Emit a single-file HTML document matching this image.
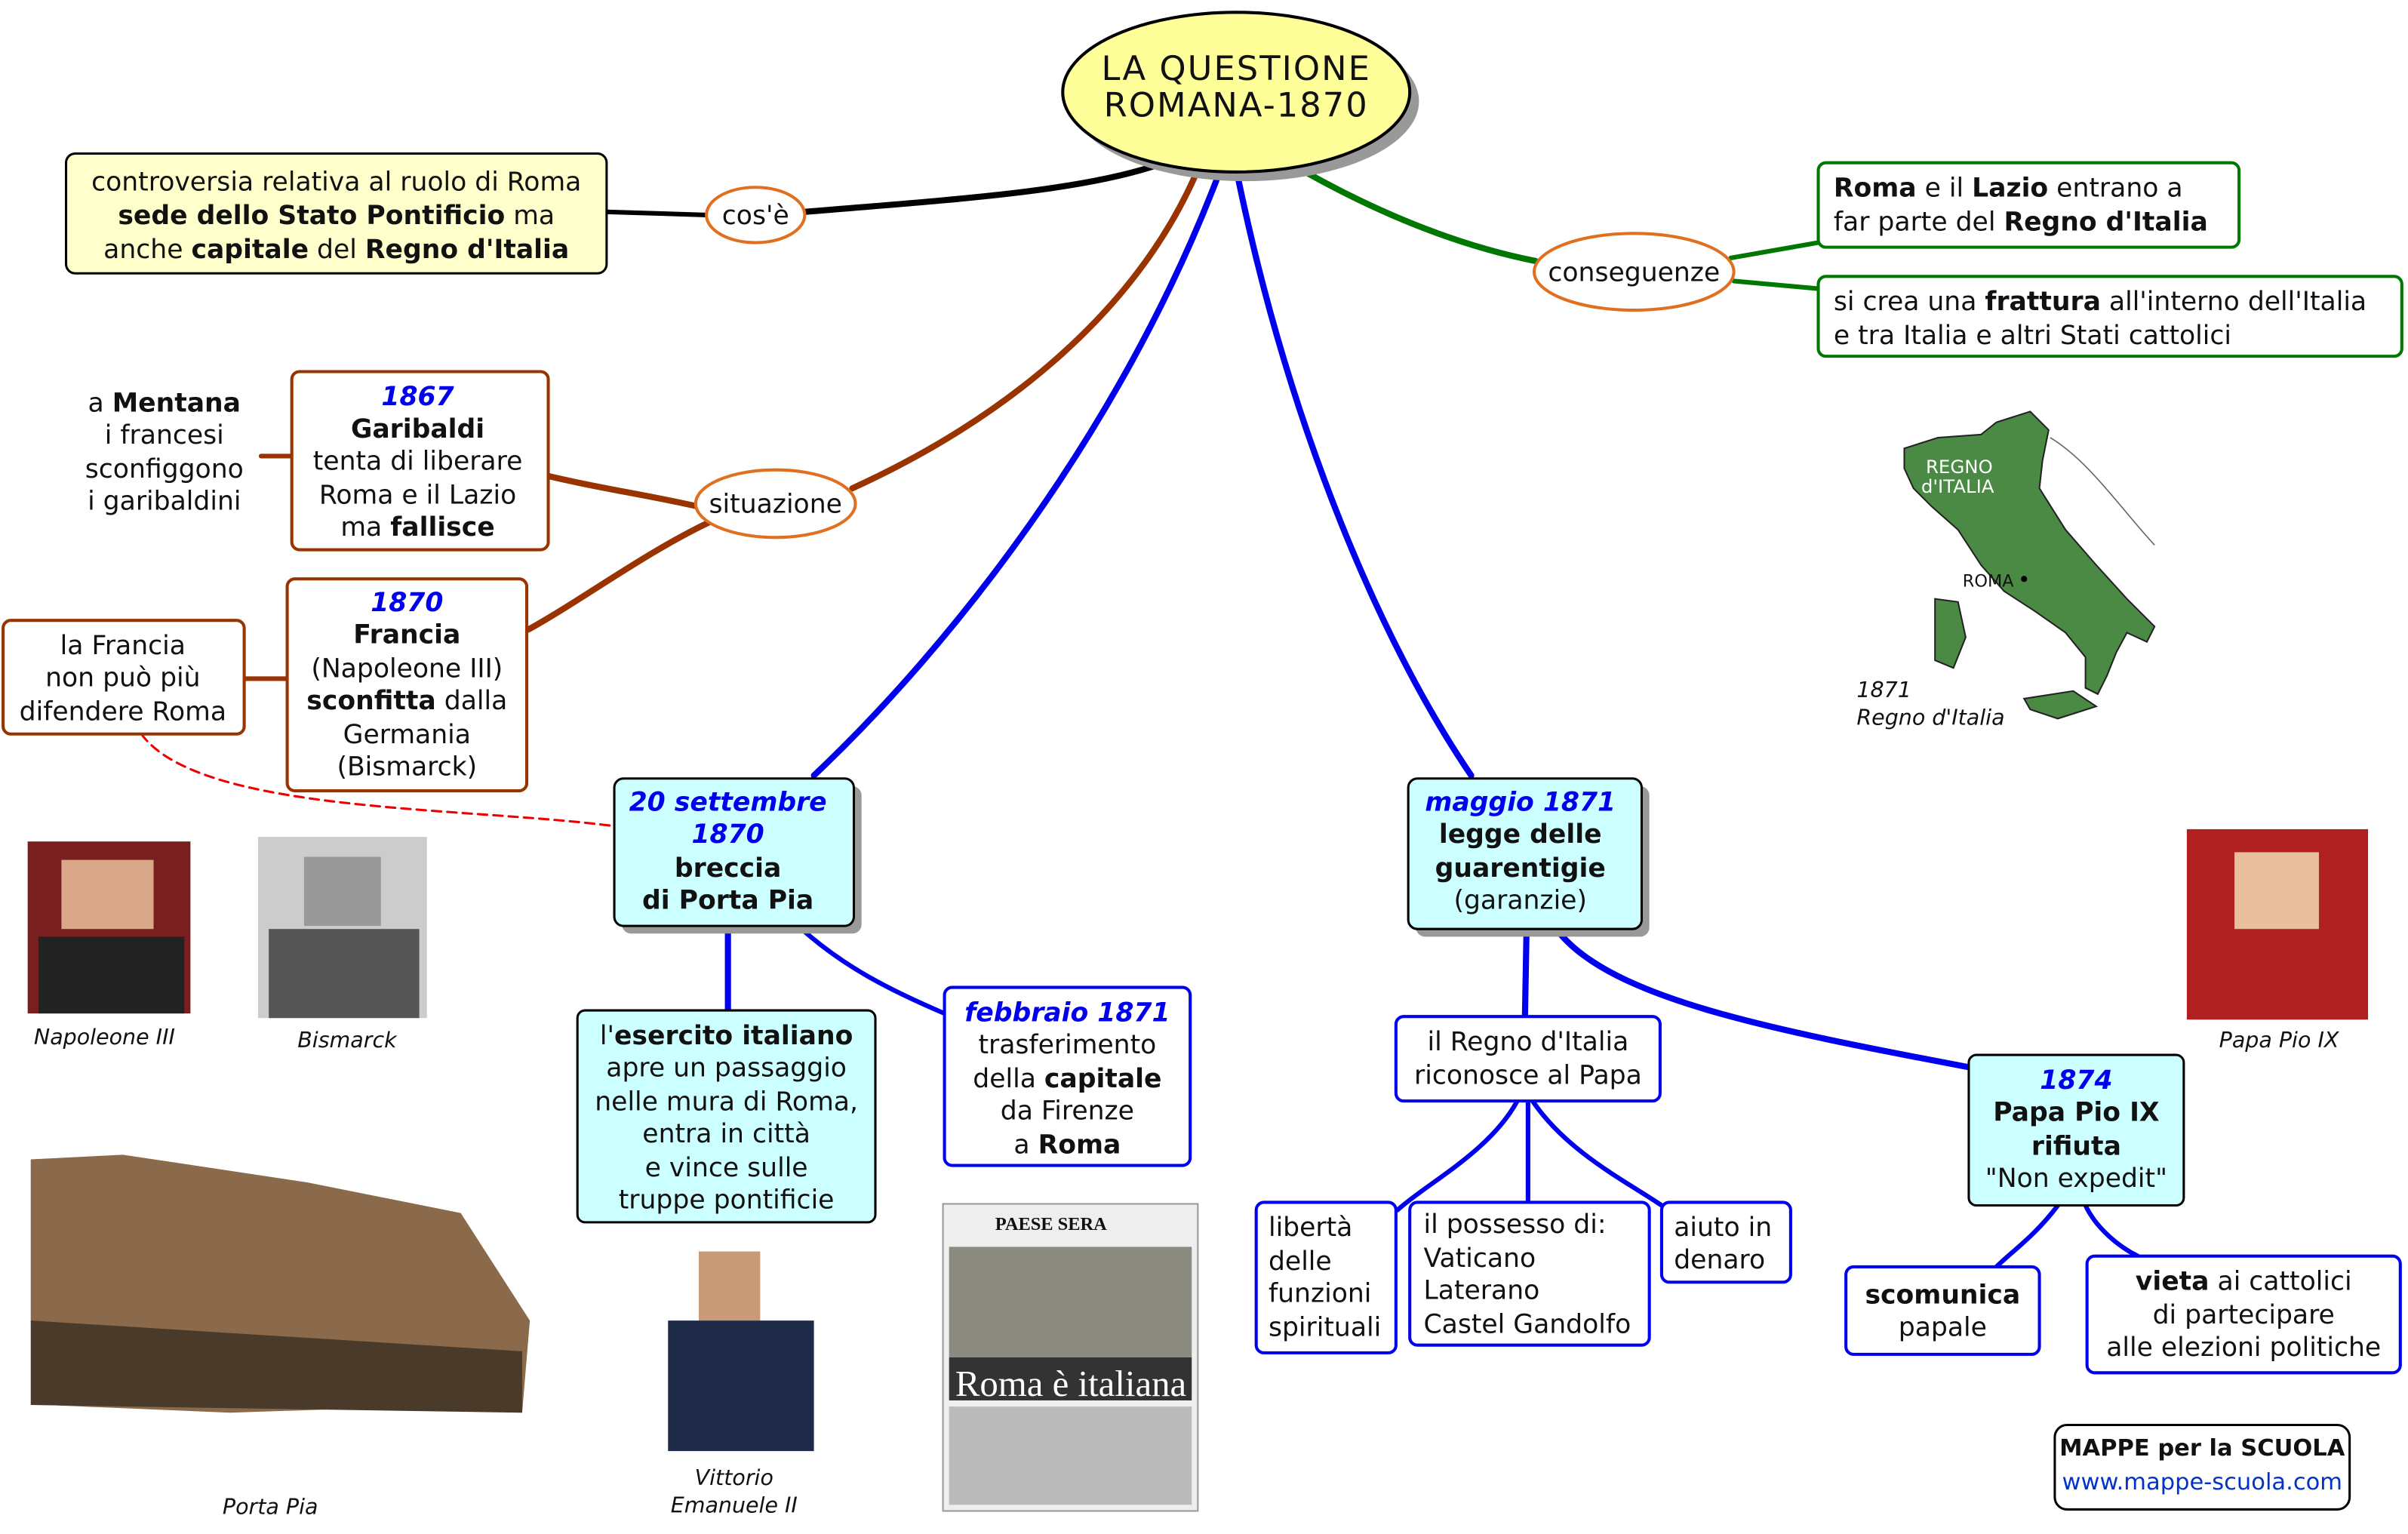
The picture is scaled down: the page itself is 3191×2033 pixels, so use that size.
<!DOCTYPE html>
<html><head><meta charset="utf-8">
<style>
html,body{margin:0;padding:0;background:#fff;}
svg{display:block;}
text{font-family:"DejaVu Sans","Liberation Sans",sans-serif;font-size:17px;fill:#111;}
.b{font-weight:bold;}
.bl{fill:#0000ee;font-weight:bold;font-style:italic;}
.c{text-anchor:middle;}
.cap{font-size:14px;font-style:italic;}
</style></head><body>
<svg width="3191" height="2033" viewBox="0 0 1568 999" xmlns="http://www.w3.org/2000/svg">
<rect width="1568" height="999" fill="#fff"/>
<g fill="none" stroke-linecap="round">
<path d="M395 138 L460 140" stroke="#000" stroke-width="3"/>
<path d="M524 138 C620 130 700 125 752 108" stroke="#000" stroke-width="4"/>
<path d="M850 112 C900 140 950 160 1000 170" stroke="#007700" stroke-width="4"/>
<path d="M1127 168 L1184 158" stroke="#007700" stroke-width="3"/>
<path d="M1129 183 L1184 188" stroke="#007700" stroke-width="3"/>
<path d="M555 318 C660 270 740 200 778 115" stroke="#993300" stroke-width="4"/>
<path d="M455 330 C420 322 390 318 357 310" stroke="#993300" stroke-width="4"/>
<path d="M462 340 C420 360 380 390 344 410" stroke="#993300" stroke-width="4"/>
<path d="M170 297 L190 297" stroke="#993300" stroke-width="3"/>
<path d="M159 442 L187 442" stroke="#993300" stroke-width="3"/>
<path d="M92 478 C130 530 300 525 400 538" stroke="#ee0000" stroke-width="1.5" stroke-dasharray="6,4"/>
<path d="M793 115 C730 280 620 420 530 505" stroke="#0000ee" stroke-width="4"/>
<path d="M806 115 C840 280 900 420 958 505" stroke="#0000ee" stroke-width="4"/>
<path d="M474 603 L474 658" stroke="#0000ee" stroke-width="4"/>
<path d="M522 605 C550 630 580 645 615 660" stroke="#0000ee" stroke-width="3"/>
<path d="M994 607 L993 662" stroke="#0000ee" stroke-width="4"/>
<path d="M1015 607 C1050 650 1150 670 1282 695" stroke="#0000ee" stroke-width="4"/>
<path d="M988 717 C970 750 930 770 910 788" stroke="#0000ee" stroke-width="3"/>
<path d="M995 717 L995 783" stroke="#0000ee" stroke-width="3"/>
<path d="M998 717 C1020 750 1060 770 1082 785" stroke="#0000ee" stroke-width="3"/>
<path d="M1340 785 C1325 805 1310 815 1300 825" stroke="#0000ee" stroke-width="3"/>
<path d="M1358 785 C1365 800 1380 812 1392 818" stroke="#0000ee" stroke-width="3"/>
</g>
<ellipse cx="811" cy="66" rx="113" ry="52" fill="#999"/>
<ellipse cx="805" cy="60" rx="113" ry="52" fill="#ffff99" stroke="#000" stroke-width="2"/>
<text class="c" x="805" y="52" style="font-size:22px;letter-spacing:1px">LA QUESTIONE</text>
<text class="c" x="805" y="76" style="font-size:22px;letter-spacing:1px">ROMANA-1870</text>
<rect x="43" y="100" width="352" height="78" rx="6" fill="#ffffcc" stroke="#000" stroke-width="1.5"/>
<text class="c" x="219" y="124">controversia relativa al ruolo di Roma</text>
<text class="c" x="219" y="146"><tspan class="b">sede dello Stato Pontificio</tspan> ma</text>
<text class="c" x="219" y="168">anche <tspan class="b">capitale</tspan> del <tspan class="b">Regno d'Italia</tspan></text>
<ellipse cx="492" cy="140" rx="32" ry="18" fill="#fff" stroke="#e07020" stroke-width="2"/>
<text class="c" x="492" y="146">cos'è</text>
<ellipse cx="1064" cy="177" rx="65" ry="25" fill="#fff" stroke="#e07020" stroke-width="2"/>
<text class="c" x="1064" y="183">conseguenze</text>
<rect x="1184" y="106" width="274" height="55" rx="5" fill="#fff" stroke="#007700" stroke-width="2"/>
<text x="1194" y="128"><tspan class="b">Roma</tspan> e il <tspan class="b">Lazio</tspan> entrano a</text>
<text x="1194" y="150">far parte del <tspan class="b">Regno d'Italia</tspan></text>
<rect x="1184" y="180" width="380" height="52" rx="5" fill="#fff" stroke="#007700" stroke-width="2"/>
<text x="1194" y="202">si crea una <tspan class="b">frattura</tspan> all'interno dell'Italia</text>
<text x="1194" y="224">e tra Italia e altri Stati cattolici</text>
<ellipse cx="505" cy="328" rx="52" ry="22" fill="#fff" stroke="#e07020" stroke-width="2"/>
<text class="c" x="505" y="334">situazione</text>
<rect x="190" y="242" width="167" height="116" rx="5" fill="#fff" stroke="#993300" stroke-width="2"/>
<text class="c bl" x="272" y="264">1867</text>
<text class="c b" x="272" y="285">Garibaldi</text>
<text class="c" x="272" y="306">tenta di liberare</text>
<text class="c" x="272" y="328">Roma e il Lazio</text>
<text class="c" x="272" y="349">ma <tspan class="b">fallisce</tspan></text>
<text class="c" x="107" y="268">a <tspan class="b">Mentana</tspan></text>
<text class="c" x="107" y="289">i francesi</text>
<text class="c" x="107" y="311">sconfiggono</text>
<text class="c" x="107" y="332">i garibaldini</text>
<rect x="187" y="377" width="156" height="138" rx="5" fill="#fff" stroke="#993300" stroke-width="2"/>
<text class="c bl" x="265" y="398">1870</text>
<text class="c b" x="265" y="419">Francia</text>
<text class="c" x="265" y="441">(Napoleone III)</text>
<text class="c" x="265" y="462"><tspan class="b">sconfitta</tspan> dalla</text>
<text class="c" x="265" y="484">Germania</text>
<text class="c" x="265" y="505">(Bismarck)</text>
<rect x="2" y="404" width="157" height="74" rx="5" fill="#fff" stroke="#993300" stroke-width="2"/>
<text class="c" x="80" y="426">la Francia</text>
<text class="c" x="80" y="447">non può più</text>
<text class="c" x="80" y="469">difendere Roma</text>
<rect x="405" y="512" width="156" height="96" rx="6" fill="#999"/>
<rect x="400" y="507" width="156" height="96" rx="6" fill="#ccffff" stroke="#000" stroke-width="1.5"/>
<text class="c bl" x="474" y="528">20 settembre</text>
<text class="c bl" x="474" y="549">1870</text>
<text class="c b" x="474" y="571">breccia</text>
<text class="c b" x="474" y="592">di Porta Pia</text>
<rect x="922" y="512" width="152" height="98" rx="6" fill="#999"/>
<rect x="917" y="507" width="152" height="98" rx="6" fill="#ccffff" stroke="#000" stroke-width="1.5"/>
<text class="c bl" x="990" y="528">maggio 1871</text>
<text class="c b" x="990" y="549">legge delle</text>
<text class="c b" x="990" y="571">guarentigie</text>
<text class="c" x="990" y="592">(garanzie)</text>
<rect x="376" y="658" width="194" height="138" rx="5" fill="#ccffff" stroke="#000" stroke-width="1.5"/>
<text class="c" x="473" y="680">l'<tspan class="b">esercito italiano</tspan></text>
<text class="c" x="473" y="701">apre un passaggio</text>
<text class="c" x="473" y="723">nelle mura di Roma,</text>
<text class="c" x="473" y="744">entra in città</text>
<text class="c" x="473" y="766">e vince sulle</text>
<text class="c" x="473" y="787">truppe pontificie</text>
<rect x="615" y="643" width="160" height="116" rx="5" fill="#fff" stroke="#0000ee" stroke-width="2"/>
<text class="c bl" x="695" y="665">febbraio 1871</text>
<text class="c" x="695" y="686">trasferimento</text>
<text class="c" x="695" y="708">della <tspan class="b">capitale</tspan></text>
<text class="c" x="695" y="729">da Firenze</text>
<text class="c" x="695" y="751">a <tspan class="b">Roma</tspan></text>
<rect x="909" y="662" width="172" height="55" rx="5" fill="#fff" stroke="#0000ee" stroke-width="2"/>
<text class="c" x="995" y="684">il Regno d'Italia</text>
<text class="c" x="995" y="706">riconosce al Papa</text>
<rect x="818" y="783" width="91" height="98" rx="5" fill="#fff" stroke="#0000ee" stroke-width="2"/>
<text x="826" y="805">libertà</text><text x="826" y="827">delle</text><text x="826" y="848">funzioni</text><text x="826" y="870">spirituali</text>
<rect x="918" y="783" width="156" height="93" rx="5" fill="#fff" stroke="#0000ee" stroke-width="2"/>
<text x="927" y="803">il possesso di:</text><text x="927" y="825">Vaticano</text><text x="927" y="846">Laterano</text><text x="927" y="868">Castel Gandolfo</text>
<rect x="1082" y="783" width="84" height="52" rx="5" fill="#fff" stroke="#0000ee" stroke-width="2"/>
<text x="1090" y="805">aiuto in</text><text x="1090" y="826">denaro</text>
<rect x="1282" y="687" width="140" height="98" rx="5" fill="#ccffff" stroke="#000" stroke-width="1.5"/>
<text class="c bl" x="1352" y="709">1874</text>
<text class="c b" x="1352" y="730">Papa Pio IX</text>
<text class="c b" x="1352" y="752">rifiuta</text>
<text class="c" x="1352" y="773">"Non expedit"</text>
<rect x="1202" y="825" width="126" height="57" rx="5" fill="#fff" stroke="#0000ee" stroke-width="2"/>
<text class="c b" x="1265" y="849">scomunica</text><text class="c" x="1265" y="870">papale</text>
<rect x="1359" y="818" width="204" height="76" rx="5" fill="#fff" stroke="#0000ee" stroke-width="2"/>
<text class="c" x="1461" y="840"><tspan class="b">vieta</tspan> ai cattolici</text>
<text class="c" x="1461" y="862">di partecipare</text>
<text class="c" x="1461" y="883">alle elezioni politiche</text>
<path d="M1240 292 L1262 285 L1290 283 L1300 275 L1322 268 L1334 280 L1330 300 L1328 318 L1345 345 L1365 368 L1385 390 L1403 408 L1398 418 L1385 412 L1378 425 L1372 440 L1366 452 L1358 448 L1358 428 L1345 412 L1325 398 L1305 385 L1290 368 L1275 345 L1258 330 L1246 318 L1240 305 Z" fill="#4a8a44" stroke="#222" stroke-width="1"/>
<path d="M1260 390 L1275 392 L1280 415 L1272 435 L1260 430 Z" fill="#4a8a44" stroke="#222"/>
<path d="M1318 455 L1350 450 L1365 460 L1340 468 L1322 462 Z" fill="#4a8a44" stroke="#222"/>
<path d="M1335 285 C1360 300 1380 330 1403 355" fill="none" stroke="#666" stroke-width="0.8"/>
<text x="1254" y="308" style="font-size:12px;fill:#fff">REGNO</text>
<text x="1251" y="321" style="font-size:12px;fill:#fff">d'ITALIA</text>
<text x="1278" y="382" style="font-size:11px">ROMA</text>
<circle cx="1318" cy="377" r="2" fill="#000"/>
<text class="cap" x="1209" y="454">1871</text>
<text class="cap" x="1209" y="472">Regno d'Italia</text>
<rect x="18" y="548" width="106" height="112" fill="#7a1f1f"/><rect x="40" y="560" width="60" height="45" fill="#d8a888"/><rect x="25" y="610" width="95" height="50" fill="#222"/>
<text class="c cap" x="68" y="680">Napoleone III</text>
<rect x="168" y="545" width="110" height="118" fill="#ccc"/><rect x="198" y="558" width="50" height="45" fill="#999"/><rect x="175" y="605" width="98" height="58" fill="#555"/>
<text class="c cap" x="226" y="682">Bismarck</text>
<rect x="1424" y="540" width="118" height="124" fill="#b02020"/><rect x="1455" y="555" width="55" height="50" fill="#e8c0a0"/>
<text class="c cap" x="1484" y="682">Papa Pio IX</text>
<path d="M20 755 L80 752 L200 770 L300 790 L345 860 L340 920 L300 915 L150 920 L30 915 L20 860 Z" fill="#8a6a4a"/>
<path d="M20 860 L340 880 L340 920 L20 915 Z" fill="#4a3a2a"/>
<text class="c cap" x="176" y="986">Porta Pia</text>
<rect x="420" y="812" width="110" height="132" fill="#fff"/><rect x="455" y="815" width="40" height="45" fill="#c89a78"/><rect x="435" y="860" width="95" height="85" fill="#1e2a48"/>
<text class="c cap" x="478" y="967">Vittorio</text><text class="c cap" x="478" y="985">Emanuele II</text>
<rect x="614" y="784" width="166" height="200" fill="#eee" stroke="#999"/>
<text x="648" y="801" style="font-size:12px;font-weight:bold;font-family:'Liberation Serif',serif">PAESE SERA</text>
<rect x="618" y="812" width="158" height="72" fill="#8a8a80"/>
<rect x="618" y="884" width="158" height="28" fill="#333"/>
<text x="622" y="909" style="font-size:24px;fill:#fff;font-family:'Liberation Serif',serif">Roma è italiana</text>
<rect x="618" y="916" width="158" height="64" fill="#bbb"/>
<rect x="1338" y="928" width="192" height="55" rx="8" fill="#fff" stroke="#000" stroke-width="1.5"/>
<text class="c b" x="1434" y="948" style="font-size:15px">MAPPE per la SCUOLA</text>
<text class="c" x="1434" y="970" style="font-size:15px;fill:#0033cc">www.mappe-scuola.com</text>
</svg>
</body></html>
